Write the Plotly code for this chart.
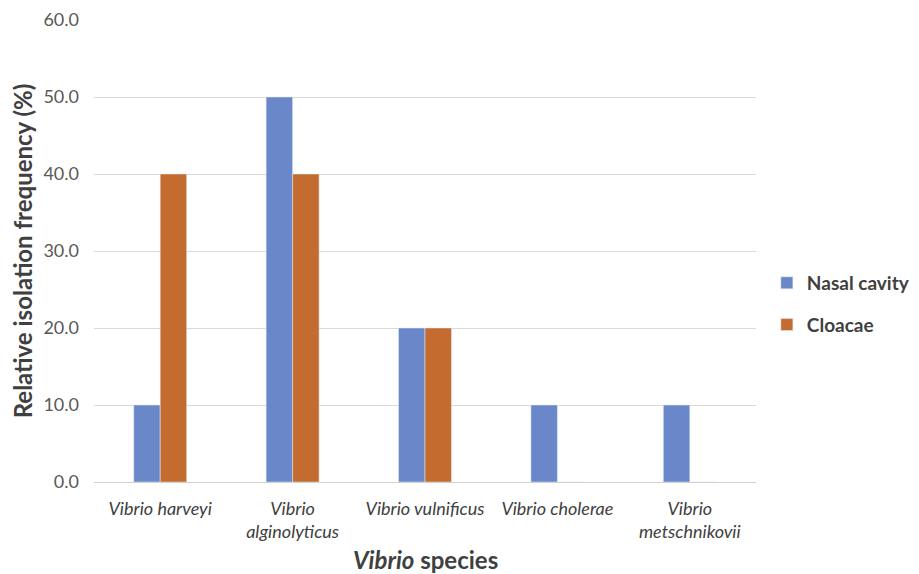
import plotly.graph_objects as go

categories = ["<i>Vibrio harveyi</i>", "<i>Vibrio<br>alginolyticus</i>", "<i>Vibrio vulnificus</i>",
              "<i>Vibrio cholerae</i>", "<i>Vibrio<br>metschnikovii</i>"]
nasal = [10, 50, 20, 10, 10]
cloacae = [40, 40, 20, 0, 0]
series_names = ["Nasal cavity", "Cloacae"]
x_title = "<b><i>Vibrio</i> species</b>"
y_title = "<b>Relative isolation frequency (%)</b>"

FONT = "Lato, Carlito, Calibri, sans-serif"

fig = go.Figure()
fig.add_bar(x=categories, y=nasal, name="<b>" + series_names[0] + "</b>",
            marker_color="#6A88C9", legendgroup="a")
fig.add_bar(x=categories, y=cloacae, name="<b>" + series_names[1] + "</b>",
            marker_color="#C46C30", legendgroup="b")

fig.update_layout(
    width=911, height=566,
    margin=dict(l=86, r=163, t=12, b=92, autoexpand=False),
    paper_bgcolor="white", plot_bgcolor="white",
    barmode="group", bargap=0.6, bargroupgap=0,
    font=dict(family=FONT, color="#595959"),
    legend=dict(x=0.833, y=0.477, xref="container", yref="container",
                xanchor="left", yanchor="middle",
                font=dict(size=19, color="#404040", family=FONT),
                tracegroupgap=14, itemwidth=30, traceorder="grouped"),
    xaxis=dict(
        tickfont=dict(size=18, color="#404040"),
        showline=True, linecolor="#D0D0D0", linewidth=1,
        ticks="", showgrid=False, ticklabelstandoff=10,
    ),
    yaxis=dict(
        range=[0, 60], dtick=10, tickformat=".1f",
        tickfont=dict(size=18, color="#595959"),
        showgrid=True, gridcolor="#D9D9D9", gridwidth=1,
        zeroline=False, ticks="", ticklabelstandoff=14,
        title=dict(text=y_title, font=dict(size=24, color="#404040"), standoff=7),
    ),
    annotations=[dict(text=x_title, xref="paper", yref="paper", x=0.5, y=-0.168,
                      xanchor="center", yanchor="middle", showarrow=False,
                      font=dict(size=24, color="#404040", family=FONT))],
)
fig.write_html("out.html")
